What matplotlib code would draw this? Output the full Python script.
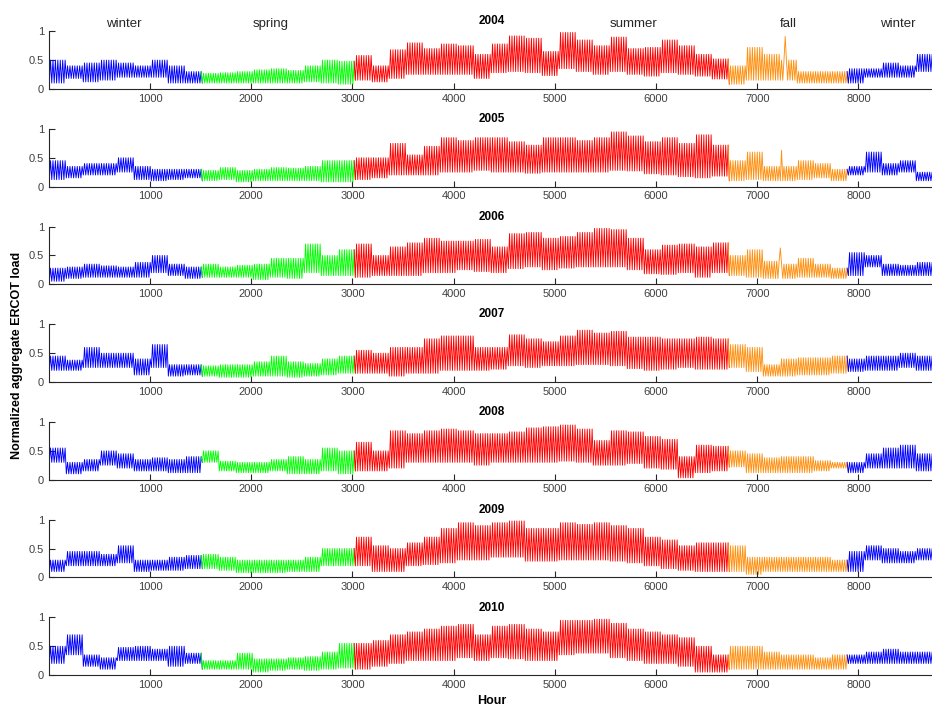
import numpy as np
import matplotlib
matplotlib.use('Agg')
import matplotlib.pyplot as plt

plt.rcParams['font.family'] = ['Liberation Sans', 'DejaVu Sans']

# Weekly trough / peak of the normalized ERCOT load (53 weeks per year)
years = ['2004', '2005', '2006', '2007', '2008', '2009', '2010']

low_2004 = [0.1, 0.18, 0.12, 0.15, 0.2, 0.2, 0.2, 0.1, 0.1,
            0.1, 0.1, 0.1, 0.1, 0.1, 0.1, 0.12, 0.1, 0.08,
            0.15, 0.12, 0.18, 0.25, 0.25, 0.25, 0.25,
            0.18, 0.28, 0.3, 0.28, 0.23, 0.35, 0.3, 0.25, 0.3, 0.25, 0.22, 0.28, 0.25, 0.22, 0.17,
            0.08, 0.15, 0.15, 0.15, 0.1, 0.1, 0.1,
            0.1, 0.2, 0.2, 0.2, 0.3, 0.15]
high_2004 = [0.5, 0.4, 0.45, 0.5, 0.45, 0.4, 0.5, 0.4, 0.3,
             0.27, 0.28, 0.3, 0.33, 0.35, 0.32, 0.4, 0.5, 0.48,
             0.58, 0.4, 0.68, 0.8, 0.7, 0.78, 0.75,
             0.6, 0.78, 0.92, 0.88, 0.65, 0.98, 0.85, 0.75, 0.9, 0.7, 0.72, 0.85, 0.75, 0.6, 0.52,
             0.4, 0.72, 0.6, 0.5, 0.3, 0.3, 0.3,
             0.35, 0.35, 0.45, 0.4, 0.6, 0.3]

low_2005 = [0.12, 0.15, 0.2, 0.2, 0.25, 0.12, 0.1, 0.12, 0.15,
            0.1, 0.12, 0.08, 0.1, 0.1, 0.1, 0.1, 0.08, 0.08,
            0.12, 0.15, 0.2, 0.2, 0.2, 0.25, 0.25,
            0.28, 0.25, 0.25, 0.23, 0.25, 0.25, 0.25, 0.25, 0.28, 0.27, 0.22, 0.2, 0.17, 0.15, 0.18,
            0.1, 0.12, 0.1, 0.1, 0.12, 0.15, 0.1,
            0.2, 0.25, 0.2, 0.25, 0.1, 0.12]
high_2005 = [0.45, 0.35, 0.4, 0.4, 0.5, 0.35, 0.3, 0.3, 0.3,
             0.28, 0.33, 0.28, 0.3, 0.33, 0.32, 0.35, 0.45, 0.45,
             0.5, 0.5, 0.75, 0.55, 0.7, 0.85, 0.8,
             0.85, 0.85, 0.78, 0.72, 0.85, 0.85, 0.8, 0.85, 0.95, 0.88, 0.78, 0.85, 0.75, 0.9, 0.72,
             0.45, 0.6, 0.35, 0.35, 0.45, 0.4, 0.3,
             0.35, 0.6, 0.4, 0.45, 0.25, 0.28]

low_2006 = [0.05, 0.1, 0.12, 0.12, 0.12, 0.12, 0.2, 0.15, 0.1,
            0.12, 0.12, 0.12, 0.08, 0.12, 0.1, 0.2, 0.15, 0.15,
            0.12, 0.15, 0.15, 0.15, 0.2, 0.2, 0.25,
            0.22, 0.2, 0.27, 0.3, 0.25, 0.28, 0.3, 0.3, 0.3, 0.25, 0.18, 0.17, 0.2, 0.12, 0.2,
            0.15, 0.12, 0.1, 0.1, 0.12, 0.12, 0.1,
            0.15, 0.3, 0.15, 0.15, 0.15, 0.1]
high_2006 = [0.28, 0.3, 0.35, 0.32, 0.3, 0.38, 0.5, 0.35, 0.3,
             0.35, 0.3, 0.33, 0.35, 0.45, 0.45, 0.7, 0.5, 0.6,
             0.7, 0.5, 0.65, 0.72, 0.8, 0.75, 0.75,
             0.78, 0.65, 0.88, 0.9, 0.8, 0.83, 0.9, 0.97, 0.95, 0.8, 0.6, 0.68, 0.7, 0.65, 0.72,
             0.5, 0.6, 0.4, 0.35, 0.45, 0.35, 0.28,
             0.55, 0.5, 0.35, 0.33, 0.38, 0.25]

low_2007 = [0.2, 0.2, 0.25, 0.25, 0.25, 0.12, 0.25, 0.1, 0.12,
            0.1, 0.08, 0.08, 0.1, 0.1, 0.08, 0.1, 0.12, 0.15,
            0.15, 0.15, 0.1, 0.15, 0.15, 0.2, 0.2,
            0.2, 0.22, 0.28, 0.25, 0.28, 0.28, 0.3, 0.3, 0.28, 0.23, 0.2, 0.22, 0.25, 0.22, 0.22,
            0.25, 0.18, 0.1, 0.1, 0.12, 0.12, 0.15,
            0.18, 0.2, 0.2, 0.25, 0.2, 0.25]
high_2007 = [0.45, 0.38, 0.6, 0.5, 0.5, 0.4, 0.65, 0.3, 0.3,
             0.28, 0.3, 0.3, 0.35, 0.45, 0.35, 0.32, 0.4, 0.45,
             0.55, 0.5, 0.6, 0.6, 0.75, 0.8, 0.8,
             0.6, 0.6, 0.82, 0.75, 0.7, 0.8, 0.9, 0.85, 0.88, 0.78, 0.78, 0.75, 0.75, 0.78, 0.75,
             0.65, 0.6, 0.3, 0.4, 0.42, 0.42, 0.45,
             0.4, 0.45, 0.45, 0.5, 0.45, 0.4]

low_2008 = [0.3, 0.1, 0.15, 0.25, 0.2, 0.15, 0.15, 0.12, 0.12,
            0.3, 0.15, 0.12, 0.12, 0.15, 0.1, 0.1, 0.15, 0.1,
            0.15, 0.15, 0.2, 0.3, 0.3, 0.3, 0.3,
            0.25, 0.3, 0.3, 0.3, 0.3, 0.32, 0.3, 0.25, 0.25, 0.28, 0.2, 0.18, 0.03, 0.12, 0.15,
            0.22, 0.12, 0.12, 0.12, 0.12, 0.15, 0.2,
            0.12, 0.2, 0.2, 0.2, 0.15, 0.15]
high_2008 = [0.55, 0.3, 0.35, 0.5, 0.45, 0.35, 0.38, 0.35, 0.4,
             0.5, 0.32, 0.3, 0.3, 0.35, 0.4, 0.35, 0.55, 0.5,
             0.65, 0.5, 0.85, 0.8, 0.85, 0.88, 0.85,
             0.8, 0.8, 0.83, 0.9, 0.92, 0.95, 0.88, 0.68, 0.85, 0.83, 0.75, 0.7, 0.4, 0.6, 0.58,
             0.5, 0.45, 0.38, 0.4, 0.4, 0.33, 0.3,
             0.3, 0.45, 0.55, 0.6, 0.45, 0.35]

low_2009 = [0.1, 0.2, 0.2, 0.2, 0.25, 0.1, 0.12, 0.12, 0.15,
            0.15, 0.12, 0.08, 0.08, 0.08, 0.1, 0.1, 0.2, 0.2,
            0.2, 0.1, 0.1, 0.2, 0.22, 0.25, 0.3,
            0.3, 0.35, 0.35, 0.28, 0.28, 0.3, 0.3, 0.3, 0.28, 0.25, 0.2, 0.15, 0.12, 0.1, 0.1,
            0.1, 0.05, 0.1, 0.1, 0.1, 0.1, 0.1,
            0.1, 0.3, 0.25, 0.25, 0.3, 0.35]
high_2009 = [0.3, 0.45, 0.45, 0.4, 0.55, 0.3, 0.3, 0.35, 0.38,
             0.4, 0.35, 0.3, 0.3, 0.3, 0.3, 0.35, 0.5, 0.5,
             0.7, 0.55, 0.5, 0.6, 0.7, 0.85, 0.95,
             0.9, 0.95, 0.98, 0.85, 0.85, 0.95, 0.92, 0.95, 0.9, 0.85, 0.7, 0.65, 0.55, 0.6, 0.6,
             0.55, 0.35, 0.35, 0.35, 0.35, 0.35, 0.3,
             0.45, 0.55, 0.5, 0.45, 0.5, 0.55]

low_2010 = [0.2, 0.35, 0.15, 0.1, 0.25, 0.25, 0.25, 0.15, 0.2,
            0.1, 0.1, 0.1, 0.05, 0.08, 0.1, 0.08, 0.1, 0.12,
            0.1, 0.15, 0.2, 0.25, 0.25, 0.25, 0.3,
            0.25, 0.3, 0.28, 0.25, 0.25, 0.35, 0.38, 0.38, 0.3, 0.25, 0.2, 0.2, 0.15, 0.05, 0.05,
            0.1, 0.1, 0.1, 0.1, 0.1, 0.1, 0.1,
            0.2, 0.2, 0.2, 0.2, 0.2, 0.15]
high_2010 = [0.5, 0.7, 0.35, 0.3, 0.48, 0.5, 0.45, 0.5, 0.38,
             0.25, 0.25, 0.38, 0.28, 0.28, 0.3, 0.32, 0.4, 0.55,
             0.55, 0.6, 0.7, 0.75, 0.8, 0.85, 0.88,
             0.7, 0.85, 0.88, 0.8, 0.75, 0.95, 0.95, 0.97, 0.9, 0.8, 0.75, 0.7, 0.65, 0.5, 0.35,
             0.5, 0.5, 0.4, 0.35, 0.35, 0.3, 0.35,
             0.35, 0.4, 0.45, 0.4, 0.4, 0.3]

lows = [low_2004, low_2005, low_2006, low_2007, low_2008, low_2009, low_2010]
highs = [high_2004, high_2005, high_2006, high_2007, high_2008, high_2009, high_2010]

# single-hour load spikes (hour, value)
spikes = {'2004': [(7278, 0.91)], '2005': [(7245, 0.63)], '2006': [(7235, 0.63)]}

# season boundaries in hours and their colours
season_edges = [0, 1512, 3024, 6720, 7896, 8760]
season_colors = ['#0000ff', '#00ff00', '#ff0000', '#ff9010', '#0000ff']
season_names = ['winter', 'spring', 'summer', 'fall', 'winter']
season_label_x = [742, 2196, 5775, 7308, 8386]

days = np.arange(365)
week = np.minimum(days // 7, 52)

fig = plt.figure(figsize=(9.32, 7.10), dpi=100)

ax_left = 0.0525
ax_width = 0.951
ax_height = 0.081
ax_step = 0.1376
bottom0 = 0.0493

for i, yr in enumerate(years):
    ax = fig.add_axes([ax_left, bottom0 + (6 - i) * ax_step, ax_width, ax_height])

    lo = np.array(lows[i])[week]
    hi = np.array(highs[i])[week]
    x = np.empty(2 * len(days))
    y = np.empty(2 * len(days))
    x[0::2] = 24 * days + 5
    x[1::2] = 24 * days + 17
    y[0::2] = lo
    y[1::2] = hi
    for h, v in spikes.get(yr, []):
        k = np.argmin(np.abs(x - h))
        y[k] = v

    for s in range(len(season_colors)):
        a, b = season_edges[s], season_edges[s + 1]
        m = (x >= a - 12) & (x <= b + 12)
        ax.plot(x[m], y[m], color=season_colors[s], lw=0.65)

    ax.set_xlim(1, 8760)
    ax.set_ylim(0, 1)
    ax.set_yticks([0, 0.5, 1])
    ax.set_yticklabels(['0', '0.5', '1'])
    ax.set_xticks(np.arange(1000, 9000, 1000))
    ax.spines['top'].set_visible(False)
    ax.spines['right'].set_visible(False)
    for sp in ['left', 'bottom']:
        ax.spines[sp].set_color('#262626')
        ax.spines[sp].set_linewidth(0.8)
    ax.tick_params(direction='in', length=4, width=0.8, colors='#262626',
                   labelcolor='#404040', labelsize=8)
    ax.set_title(yr, fontsize=8.5, fontweight='bold', pad=5)

    if i == 0:
        for name, sx in zip(season_names, season_label_x):
            ax.text(sx, 1.13, name, ha='center', va='center', fontsize=9.5,
                    color='#262626')
    if i == len(years) - 1:
        ax.set_xlabel('Hour', fontsize=9, fontweight='bold', labelpad=4)

fig.text(0.018, 0.5, 'Normalized aggregate ERCOT load', rotation=90,
         ha='center', va='center', fontsize=9, fontweight='bold')

fig.savefig('out.png', dpi=100)
